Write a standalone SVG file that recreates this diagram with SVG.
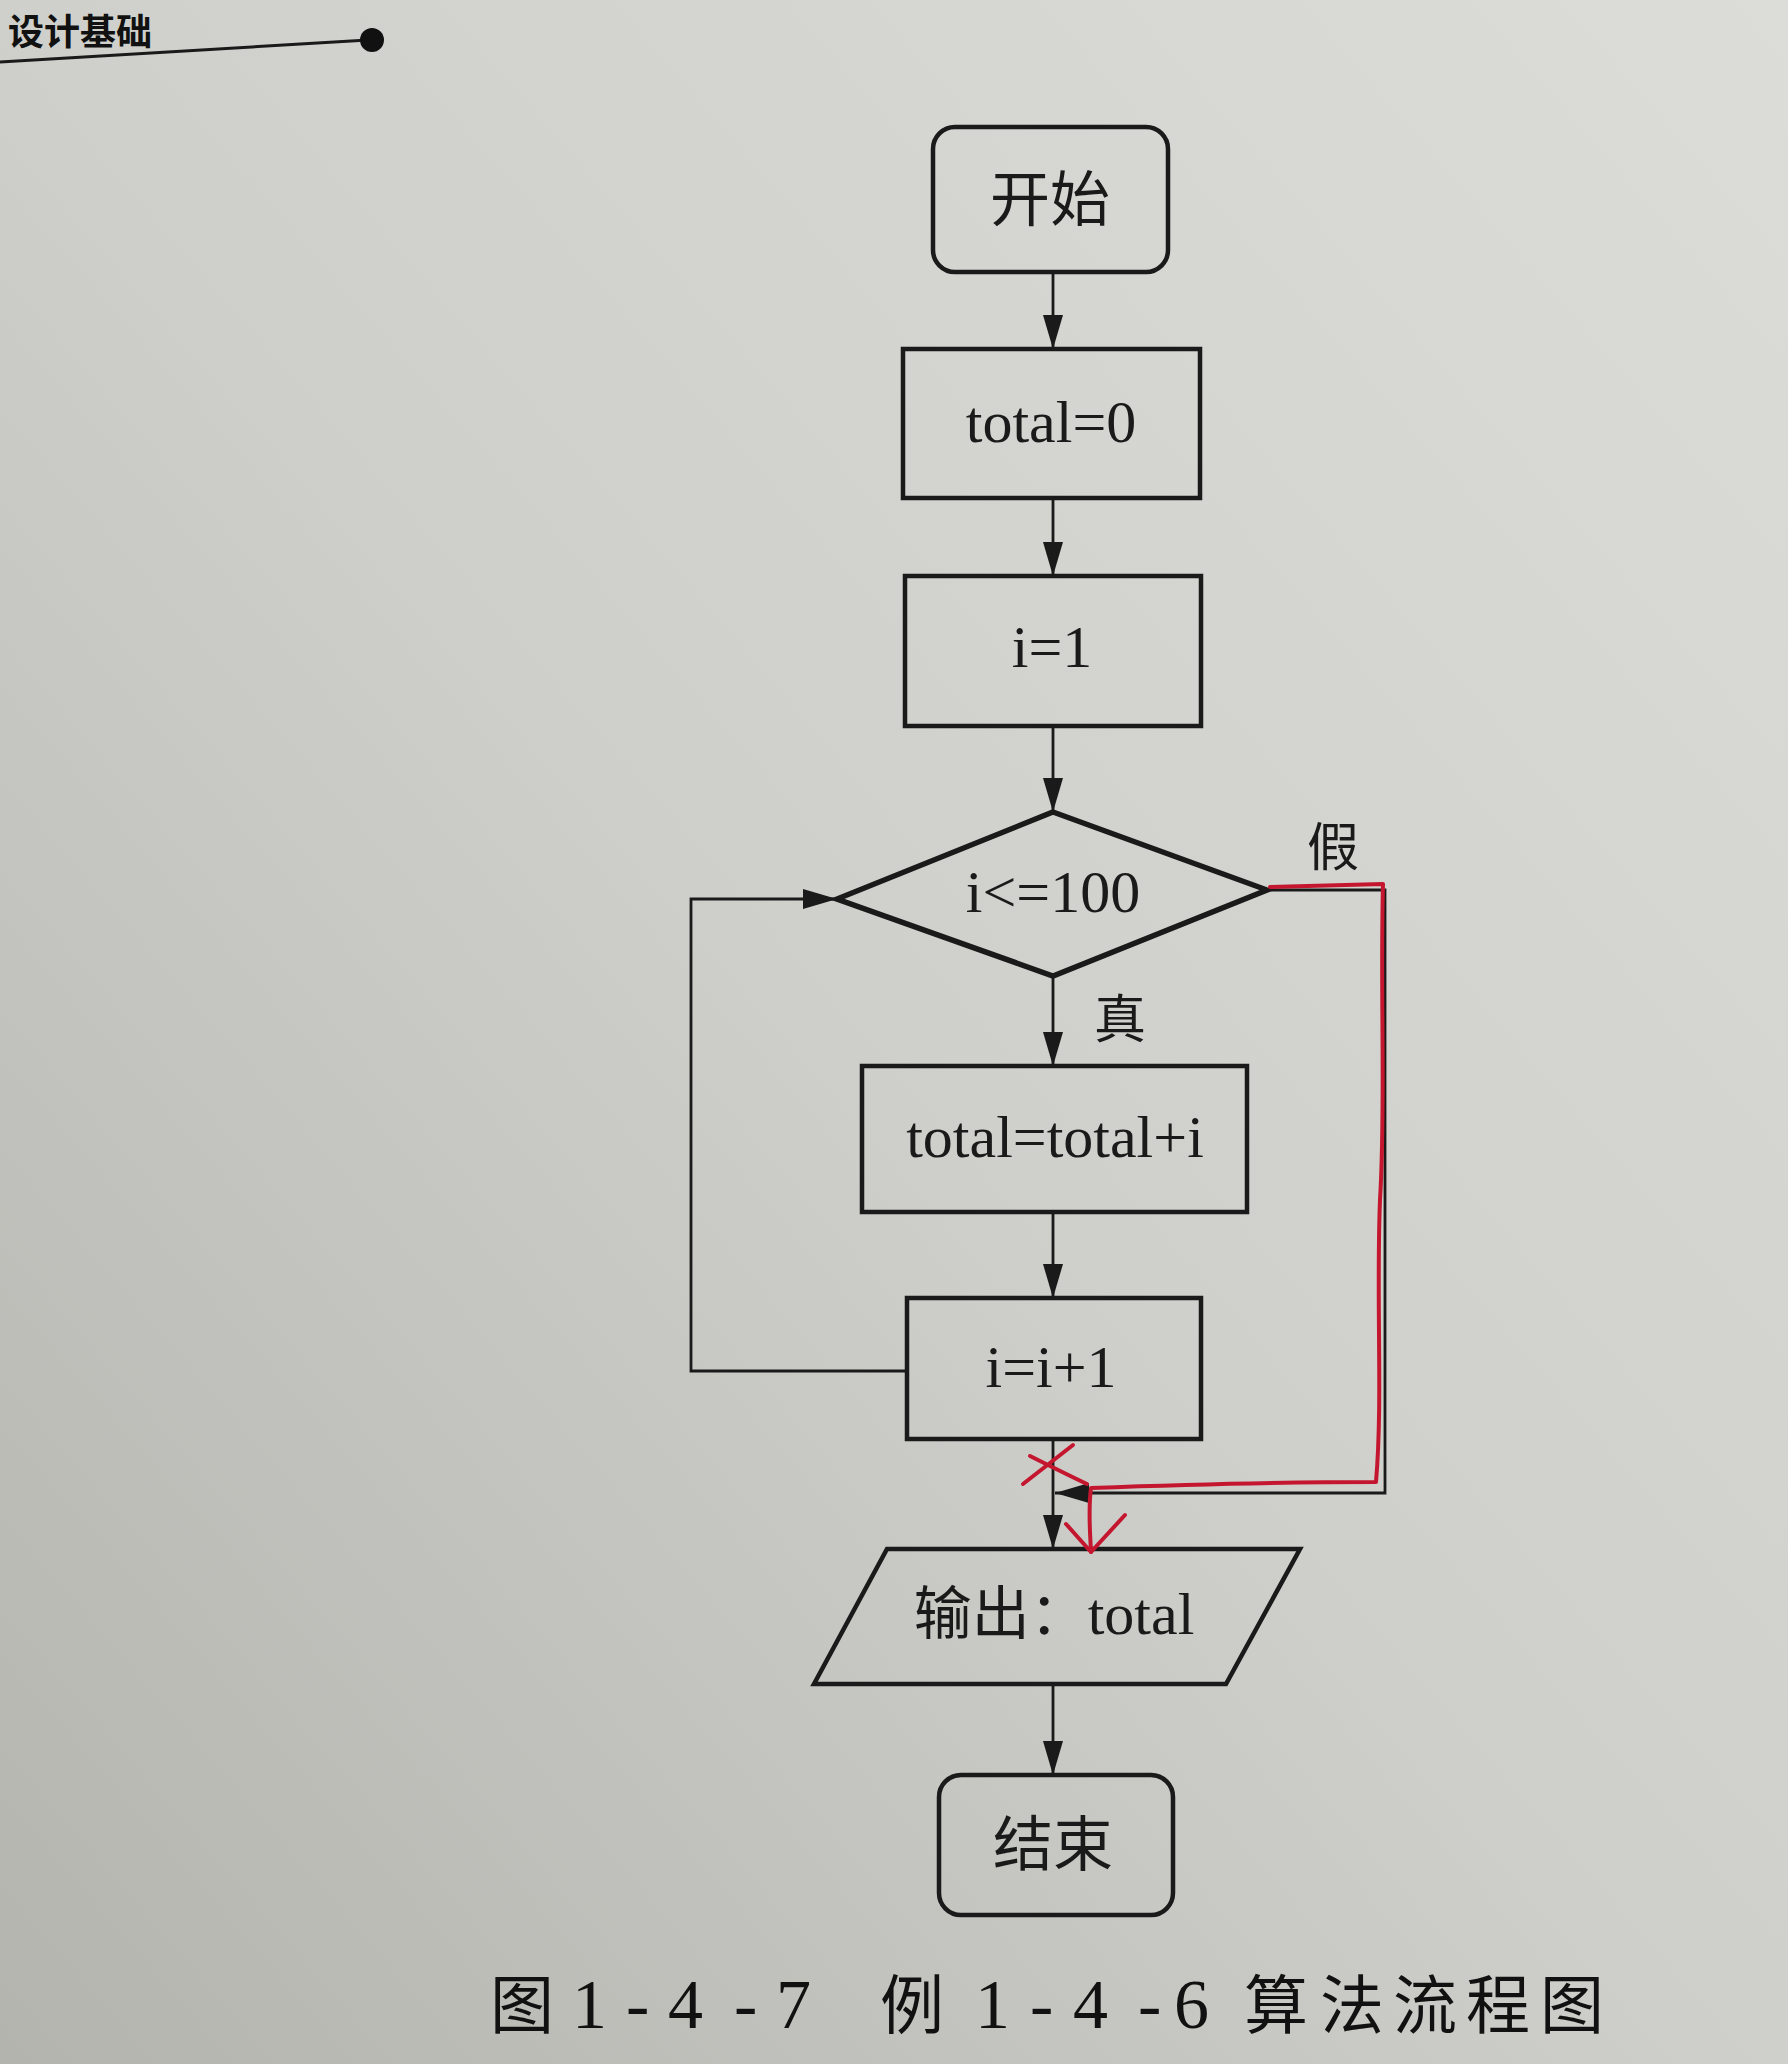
<svg xmlns="http://www.w3.org/2000/svg" width="1788" height="2064" viewBox="0 0 1788 2064">
<defs>
<linearGradient id="bg" x1="1" y1="0" x2="0" y2="1">
<stop offset="0" stop-color="#dcdcd8"/>
<stop offset="0.5" stop-color="#cfcfcb"/>
<stop offset="1" stop-color="#b4b4af"/>
</linearGradient>
<marker id="ah" markerUnits="userSpaceOnUse" markerWidth="34" markerHeight="20" refX="34" refY="10" orient="auto">
<path d="M0,0 L34,10 L0,20 z" fill="#1a1a1a"/>
</marker>
<style>
.box{fill:none;stroke:#1a1a1a;stroke-width:4.5}
.dia{fill:none;stroke:#1a1a1a;stroke-width:5.5;stroke-linejoin:miter}
.con{fill:none;stroke:#1a1a1a;stroke-width:2.8;marker-end:url(#ah)}
.lbl{font-family:"Liberation Serif","Noto Sans CJK SC",serif;font-size:60px;fill:#1a1a1a;text-anchor:middle}
.cjk{font-family:"Noto Sans CJK SC","Liberation Sans",sans-serif;font-size:58px;fill:#1a1a1a;text-anchor:middle}
.red{fill:none;stroke:#c4162e;stroke-width:4;stroke-linecap:round;stroke-linejoin:round}
.cap{font-family:"Noto Sans CJK SC",sans-serif}
</style>
</defs>
<rect width="1788" height="2064" fill="url(#bg)"/>

<g id="header">
<text x="8" y="45" font-family="Noto Sans CJK SC, sans-serif" font-weight="bold" font-size="36" fill="#111">设计基础</text>
<line x1="0" y1="62" x2="368" y2="40" stroke="#1a1a1a" stroke-width="3"/>
<circle cx="372" cy="40" r="12" fill="#111"/>
</g>

<g id="connectors">
<line class="con" x1="1053" y1="272" x2="1053" y2="349"/>
<line class="con" x1="1053" y1="498" x2="1053" y2="576"/>
<line class="con" x1="1053" y1="726" x2="1053" y2="812"/>
<line class="con" x1="1053" y1="976" x2="1053" y2="1066"/>
<line class="con" x1="1053" y1="1212" x2="1053" y2="1298"/>
<polyline class="con" points="907,1371 691,1371 691,899 837,899"/>
<polyline class="con" points="1267,890 1385,890 1385,1493 1055,1493"/>
<line class="con" x1="1053" y1="1439" x2="1053" y2="1549"/>
<line class="con" x1="1053" y1="1684" x2="1053" y2="1775"/>
<text class="cjk" x="1333" y="866" style="font-size:52px">假</text>
<text class="cjk" x="1120" y="1038" style="font-size:52px">真</text>
</g>

<g id="start">
<rect class="box" x="933" y="127" width="235" height="145" rx="22"/>
<text class="cjk" x="1050" y="221" style="font-size:60px">开始</text>
</g>
<g id="init-total">
<rect class="box" x="903" y="349" width="297" height="149"/>
<text class="lbl" x="1051" y="442">total=0</text>
</g>
<g id="init-i">
<rect class="box" x="905" y="576" width="296" height="150"/>
<text class="lbl" x="1052" y="667">i=1</text>
</g>
<g id="cond">
<polygon class="dia" points="1053,812 1267,890 1053,976 837,899"/>
<text class="lbl" x="1053" y="912">i&lt;=100</text>
</g>
<g id="accumulate">
<rect class="box" x="862" y="1066" width="385" height="146"/>
<text class="lbl" x="1055" y="1157">total=total+i</text>
</g>
<g id="increment">
<rect class="box" x="907" y="1298" width="294" height="141"/>
<text class="lbl" x="1051" y="1387">i=i+1</text>
</g>
<g id="output">
<polygon class="box" points="887,1549 1300,1549 1226,1684 814,1684"/>
<text class="lbl" x="1054" y="1634"><tspan font-family="Noto Sans CJK SC, sans-serif" font-size="58">输出：</tspan>total</text>
</g>
<g id="end">
<rect class="box" x="939" y="1775" width="234" height="140" rx="22"/>
<text class="cjk" x="1053" y="1866" style="font-size:60px">结束</text>
</g>

<g id="annotation">
<path class="red" d="M1270,887 L1383,884 C1380,1000 1386,1100 1380,1200 C1376,1300 1383,1400 1376,1482 C1300,1482 1200,1484 1091,1488 C1088,1510 1090,1530 1091,1552"/>
<path class="red" d="M1066,1524 L1091,1552 L1125,1515"/>
<path class="red" d="M1023,1484 L1073,1445 M1030,1456 C1050,1466 1070,1476 1087,1484"/>
</g>

<g id="caption" font-family="Liberation Serif, Noto Sans CJK SC, serif" font-size="70" fill="#111">
<text y="2028"><tspan x="490" class="cap" font-size="64">图</tspan><tspan x="572">1</tspan><tspan x="626">-</tspan><tspan x="668">4</tspan><tspan x="734">-</tspan><tspan x="776">7</tspan><tspan x="880" class="cap" font-size="64">例</tspan><tspan x="975">1</tspan><tspan x="1030">-</tspan><tspan x="1073">4</tspan><tspan x="1138">-</tspan><tspan x="1174">6</tspan><tspan x="1244" class="cap" font-size="64">算</tspan><tspan x="1320" class="cap" font-size="64">法</tspan><tspan x="1393" class="cap" font-size="64">流</tspan><tspan x="1466" class="cap" font-size="64">程</tspan><tspan x="1540" class="cap" font-size="64">图</tspan></text>
</g>
</svg>
